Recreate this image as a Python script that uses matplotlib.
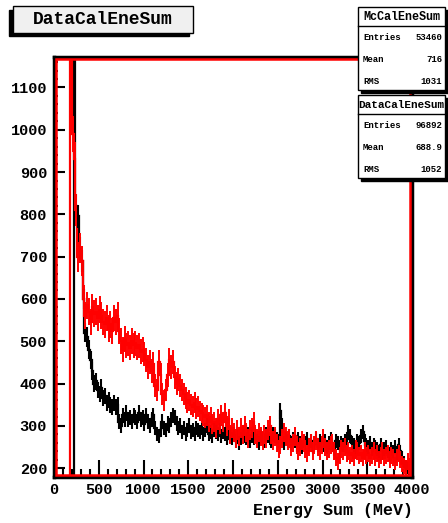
import numpy as np
import matplotlib
matplotlib.use("Agg")
import matplotlib.pyplot as plt
from matplotlib.patches import Rectangle

# histogram binning (MeV)
bin_lo = 0
bin_hi = 4000
n_bins = 200

# DataCalEneSum (black), counts per 20 MeV bin
data_counts = [0, 0, 0, 0, 0, 0, 0, 0, 0, 0, 0,
               2500,
               820, 795, 720, 690, 600, 520, 510, 480, 455,
               430, 400, 405, 385, 375, 390, 365, 370, 355, 360,
               350, 345, 355, 345, 350, 310, 300, 325, 315, 330,
               315, 320, 310, 325, 320, 310, 330, 315, 320, 305,
               325, 310, 300, 315, 325, 295, 280, 275, 290, 310,
               295, 290, 305, 300, 315, 325, 320, 305, 295, 300,
               285, 295, 280, 290, 300, 285, 290, 280, 295, 290,
               285, 295, 280, 290, 300, 280, 285, 275, 290, 285,
               280, 290, 275, 285, 280, 270, 285, 275, 270,
               280, 265, 275, 260, 270, 285, 275, 270, 280, 265,
               275, 270, 280, 265, 260, 275, 270, 265, 280, 275,
               270, 265, 280, 275, 270, 265, 335, 300, 260, 270,
               265, 275, 260, 270, 265, 255, 270, 260, 250, 265,
               260, 270, 255, 265, 250, 260, 270, 255, 265, 260,
               255, 265, 250, 260, 270, 255, 245, 265, 260, 250,
               260, 255, 265, 270, 285, 275, 260, 255, 250, 265,
               260, 275, 285, 265, 255, 250, 260, 245, 255, 250,
               245, 240, 255, 235, 245, 250, 240, 235, 245, 240,
               250, 235, 255, 240, 225, 215, 205, 200, 195, 190]

# McCalEneSum (red), scaled to data
mc_counts = [0, 0, 0, 0, 0, 0, 0, 0, 0,
             2500,
             990, 930, 810, 700, 720, 690, 600, 560, 585, 570, 545,
             580, 565, 570, 555, 575, 560, 545, 540, 555, 530,
             540, 525, 555, 545, 560, 525, 500, 480, 505, 490,
             495, 485, 500, 490, 495, 485, 490, 475, 480, 470,
             455, 440, 450, 430, 445, 395, 385, 450, 420, 375,
             360, 385, 420, 455, 440, 450, 415, 400, 410, 395,
             385, 375, 365, 355, 360, 350, 345, 355, 340, 345,
             335, 330, 325, 320, 325, 310, 320, 305, 310, 295,
             315, 305, 325, 310, 330, 300, 315, 280, 295,
             285, 270, 290, 275, 295, 280, 300, 285, 270, 290,
             295, 310, 280, 270, 285, 275, 265, 280, 270, 290,
             300, 280, 265, 275, 260, 245, 255, 270, 285, 275,
             265, 270, 250, 260, 275, 255, 240, 250, 265, 260,
             245, 235, 250, 260, 240, 255, 265, 250, 240, 255,
             270, 250, 240, 245, 255, 260, 240, 225, 215, 230,
             245, 240, 250, 235, 240, 230, 235, 225, 245, 240,
             230, 235, 225, 240, 230, 235, 225, 230, 240, 225,
             235, 220, 230, 240, 225, 230, 235, 220, 230, 225,
             215, 225, 235, 220, 210, 205, 200, 215, 205, 200]

data_entries = 96892
mc_entries = 53460

title = "DataCalEneSum"
stat_boxes = [("McCalEneSum", "53460", "716", "1031"),
              ("DataCalEneSum", "96892", "688.9", "1052")]

xticks = [0, 500, 1000, 1500, 2000, 2500, 3000, 3500, 4000]
yticks = [200, 300, 400, 500, 600, 700, 800, 900, 1000, 1100]

plt.rcParams['font.family'] = ['Liberation Mono', 'DejaVu Sans Mono']
plt.rcParams['font.weight'] = 'bold'

W, H = 448, 523
fig = plt.figure(figsize=(W / 100, H / 100), dpi=100)

def fx(px):
    return px / W

def fy(py):
    return 1 - py / H

ax = fig.add_axes([fx(54), fy(477), fx(412) - fx(54), fy(57) - fy(477)])

edges = np.linspace(bin_lo, bin_hi, n_bins + 1)
centers = 0.5 * (edges[1:] + edges[:-1])
data_counts = np.array(data_counts, dtype=float)
mc_counts = np.array(mc_counts, dtype=float)
mc_scale = data_entries / mc_entries

ax.stairs(data_counts, edges, color="black", lw=1.6)
ax.errorbar(centers, data_counts, yerr=np.sqrt(data_counts), fmt="none",
            ecolor="black", elinewidth=1.5)
ax.stairs(mc_counts, edges, color="red", lw=1.6)
ax.errorbar(centers, mc_counts, yerr=np.sqrt(mc_counts * mc_scale), fmt="none",
            ecolor="red", elinewidth=1.4)

ax.set_xlim(bin_lo, bin_hi)
ax.set_ylim(179, 1172)
ax.set_xticks(xticks)
ax.set_yticks(yticks)
ax.set_xticks(np.arange(0, 4001, 100), minor=True)
ax.set_yticks(np.arange(180, 1171, 20), minor=True)
ax.tick_params(axis="x", which="major", direction="in", length=12, width=1.5,
               labelsize=11, pad=4)
ax.tick_params(axis="x", which="minor", direction="in", length=6, width=1.5)
ax.tick_params(axis="y", which="major", direction="in", length=8, width=1.5,
               labelsize=11, pad=5)
ax.tick_params(axis="y", which="minor", direction="in", length=3, width=1.5)
for lab in ax.get_xticklabels() + ax.get_yticklabels():
    lab.set_fontweight("bold")

# frame: black outside, red inside
for sp in ax.spines.values():
    sp.set_linewidth(2.5)
    sp.set_color("black")
aw = (fx(412) - fx(54)) * W
ah = (fy(57) - fy(477)) * H
ix, iy = 1.8 / aw, 1.8 / ah
ax.add_patch(Rectangle((ix, iy), 1 - 2 * ix, 1 - 2 * iy, transform=ax.transAxes,
                       fill=False, edgecolor="red", lw=1.8, clip_on=False, zorder=4))

fig.text(fx(413), fy(511), "Energy Sum (MeV)", ha="right", va="center",
         fontsize=12, fontweight="bold")

# title box with shadow
fig.add_artist(Rectangle((fx(9), fy(36)), fx(189) - fx(9), fy(10) - fy(36),
                         transform=fig.transFigure, facecolor="black",
                         edgecolor="black", zorder=5))
fig.add_artist(Rectangle((fx(13), fy(33)), fx(193) - fx(13), fy(6) - fy(33),
                         transform=fig.transFigure, facecolor="#f0f0f0",
                         edgecolor="black", lw=1, zorder=6))
fig.text(fx(103), fy(20), title, ha="center", va="center", fontsize=13,
         fontweight="bold", zorder=7)

# stat boxes
box_tops = [7, 95]
box_bottoms = [90, 178]
name_sizes = [8.5, 7.9]
for (name, entries, mean, rms), top, bot, nsz in zip(stat_boxes, box_tops,
                                                      box_bottoms, name_sizes):
    fig.add_artist(Rectangle((fx(361), fy(bot + 3)), fx(448) - fx(361),
                             fy(top + 3) - fy(bot + 3), transform=fig.transFigure,
                             facecolor="black", edgecolor="black", zorder=5))
    fig.add_artist(Rectangle((fx(358), fy(bot)), fx(445) - fx(358),
                             fy(top) - fy(bot), transform=fig.transFigure,
                             facecolor="white", edgecolor="black", lw=1, zorder=6))
    sep = top + 19
    fig.add_artist(plt.Line2D([fx(358), fx(445)], [fy(sep), fy(sep)],
                              transform=fig.transFigure, color="black", lw=1,
                              zorder=7))
    fig.text(fx(401.5), fy(top + 10), name, ha="center", va="center",
             fontsize=nsz, fontweight="bold", zorder=8)
    rows = [("Entries", entries), ("Mean", mean), ("RMS", rms)]
    for k, (lab, val) in enumerate(rows):
        yy = top + 31 + 21.5 * k
        fig.text(fx(363), fy(yy), lab, ha="left", va="center", fontsize=6.5,
                 fontweight="bold", zorder=8)
        fig.text(fx(442), fy(yy), val, ha="right", va="center", fontsize=6.5,
                 fontweight="bold", zorder=8)

fig.savefig("out.png", dpi=100)
